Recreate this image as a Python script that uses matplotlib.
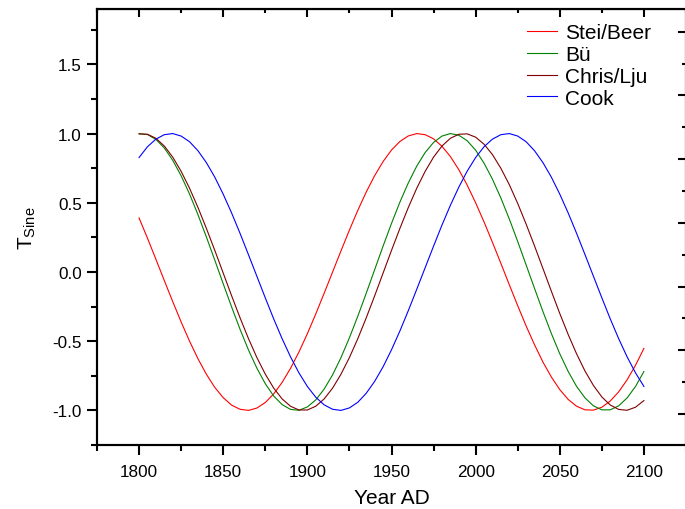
import numpy as np
import matplotlib
matplotlib.use("Agg")
import matplotlib.pyplot as plt
from matplotlib.ticker import MultipleLocator, FormatStrFormatter

plt.rcParams['font.family'] = ['Liberation Sans', 'DejaVu Sans']
plt.rcParams['mathtext.fontset'] = 'custom'
plt.rcParams['mathtext.rm'] = 'Liberation Sans'
plt.rcParams['axes.unicode_minus'] = False

# values, every 5 years from 1800 to 2100
years = list(range(1800, 2101, 5))

stei_beer = [0.390, 0.244, 0.092, -0.062, -0.214, -0.361, -0.500, -0.627, -0.739, -0.834,
             -0.908, -0.962, -0.992, -1.000, -0.983, -0.943, -0.881, -0.798, -0.696, -0.578,
             -0.446, -0.303, -0.153, 0.000, 0.153, 0.303, 0.446, 0.578, 0.696, 0.798,
             0.881, 0.943, 0.983, 1.000, 0.992, 0.962, 0.908, 0.834, 0.739, 0.627,
             0.500, 0.361, 0.214, 0.062, -0.092, -0.244, -0.390, -0.526, -0.651, -0.759,
             -0.850, -0.921, -0.970, -0.996, -0.998, -0.977, -0.932, -0.866, -0.779, -0.674,
             -0.552]

bue = [0.999, 0.993, 0.958, 0.896, 0.807, 0.695, 0.563, 0.414, 0.253, 0.085,
       -0.085, -0.253, -0.414, -0.563, -0.695, -0.807, -0.896, -0.958, -0.993, -0.999,
       -0.975, -0.924, -0.846, -0.743, -0.618, -0.475, -0.319, -0.153, 0.017, 0.187,
       0.351, 0.505, 0.644, 0.765, 0.863, 0.936, 0.982, 1.000, 0.988, 0.948,
       0.880, 0.786, 0.670, 0.534, 0.383, 0.220, 0.051, -0.119, -0.286, -0.445,
       -0.591, -0.719, -0.827, -0.910, -0.967, -0.996, -0.996, -0.967, -0.910, -0.827,
       -0.719]

chris_lju = [0.998, 0.995, 0.966, 0.910, 0.830, 0.727, 0.605, 0.466, 0.315, 0.156,
             -0.008, -0.172, -0.331, -0.481, -0.618, -0.738, -0.839, -0.917, -0.970, -0.997,
             -0.997, -0.970, -0.917, -0.839, -0.738, -0.618, -0.481, -0.331, -0.172, -0.008,
             0.156, 0.315, 0.466, 0.605, 0.727, 0.830, 0.910, 0.966, 0.995, 0.998,
             0.974, 0.923, 0.848, 0.749, 0.631, 0.495, 0.346, 0.188, 0.025, -0.139,
             -0.300, -0.452, -0.592, -0.716, -0.820, -0.903, -0.961, -0.993, -0.999, -0.977,
             -0.929]

cook = [0.827, 0.905, 0.960, 0.992, 1.000, 0.982, 0.941, 0.876, 0.790, 0.685,
        0.562, 0.426, 0.279, 0.125, -0.031, -0.187, -0.339, -0.482, -0.613, -0.729,
        -0.827, -0.905, -0.960, -0.992, -1.000, -0.982, -0.941, -0.876, -0.790, -0.685,
        -0.562, -0.426, -0.279, -0.125, 0.031, 0.187, 0.339, 0.482, 0.613, 0.729,
        0.827, 0.905, 0.960, 0.992, 1.000, 0.982, 0.941, 0.876, 0.790, 0.685,
        0.562, 0.426, 0.279, 0.125, -0.031, -0.187, -0.339, -0.482, -0.613, -0.729,
        -0.827]

labels = ['Stei/Beer', 'Bü', 'Chris/Lju', 'Cook']
colors = ['#ff0000', '#008000', '#800000', '#0000ff']

fig = plt.figure(figsize=(6.85, 5.10), dpi=100)
ax = fig.add_axes([97 / 685, 64 / 510, 589 / 685, 436 / 510])

for ys, lab, c in zip([stei_beer, bue, chris_lju, cook], labels, colors):
    ax.plot(years, ys, color=c, lw=0.8, label=lab)

ax.set_xlim(1775, 2125)
ax.set_ylim(-1.25, 1.9)

ax.xaxis.set_major_locator(MultipleLocator(50))
ax.xaxis.set_minor_locator(MultipleLocator(25))
ax.yaxis.set_major_locator(MultipleLocator(0.5))
ax.yaxis.set_minor_locator(MultipleLocator(0.25))
ax.yaxis.set_major_formatter(FormatStrFormatter('%.1f'))

for s in ax.spines.values():
    s.set_linewidth(1.5)

ax.tick_params(which='both', direction='out', width=1.5, labelsize=12.3, right=False, top=False)
ax.tick_params(which='major', length=7)
ax.tick_params(axis='x', which='major', pad=7)
ax.tick_params(axis='y', which='major', pad=4)
ax.tick_params(which='minor', length=4)

# inward ticks along the top
top = ax.secondary_xaxis('top')
top.xaxis.set_major_locator(MultipleLocator(50))
top.xaxis.set_minor_locator(MultipleLocator(25))
top.tick_params(which='both', direction='in', width=1.5, labeltop=False)
top.tick_params(which='major', length=6)
top.tick_params(which='minor', length=3)

# right-hand axis ticks (its labels fall outside the picture)
ax2 = ax.twinx()
ax2.set_ylim(-0.487, 6.358)
ax2.yaxis.set_major_locator(MultipleLocator(1))
ax2.yaxis.set_minor_locator(MultipleLocator(0.5))
ax2.tick_params(which='both', direction='in', width=1.5, labelright=False)
ax2.tick_params(which='major', length=6)
ax2.tick_params(which='minor', length=3)
for s in ax2.spines.values():
    s.set_linewidth(1.5)

ax.set_xlabel('Year AD', fontsize=15, labelpad=6)
ax.set_ylabel(r'T$_{\mathrm{Sine}}$', fontsize=15, labelpad=10)

ax.legend(loc='upper left', bbox_to_anchor=(0.73, 0.967), frameon=False, fontsize=15,
          handlelength=1.44, handletextpad=0.38, labelspacing=0.13,
          borderpad=0, borderaxespad=0)

fig.savefig('out.png', dpi=100)
